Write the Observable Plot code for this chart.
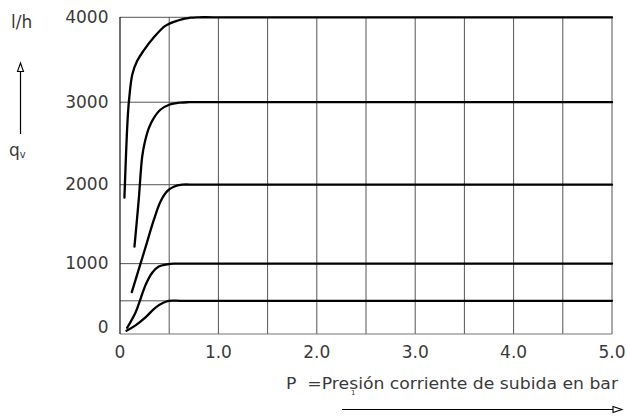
<!DOCTYPE html>
<html>
<head>
<meta charset="utf-8">
<script src="https://cdn.jsdelivr.net/npm/d3@7"></script>
<script src="https://cdn.jsdelivr.net/npm/@observablehq/plot@0.6"></script>
<style>
  html, body { margin: 0; padding: 0; background: #fff; }
</style>
</head>
<body>
<div id="chart"></div>
<script>
// Tick values / labels
const xTicks = [0, 1, 2, 3, 4, 5];
const yTicks = [1000, 2000, 3000, 4000];
const yZeroTick = [0];
const gridX = [0.5, 1, 1.5, 2, 2.5, 3, 3.5, 4, 4.5, 5];
const gridY = [500, 1000, 2000, 3000, 4000];

// Series (pressure in bar, flow in l/h)
const p4000 = [0.045, 0.075, 0.09, 0.125, 0.175, 0.24, 0.34, 0.46, 0.58, 0.72, 0.8, 0.95, 5.0];
const q4000 = [1840, 2740, 3000, 3330, 3490, 3610, 3760, 3900, 3960, 3995, 4000, 4000, 4000];
const p3000 = [0.147, 0.19, 0.225, 0.252, 0.293, 0.343, 0.41, 0.5, 0.615, 0.7, 0.85, 5.0];
const q3000 = [1220, 1810, 2340, 2520, 2690, 2810, 2910, 2970, 2995, 3000, 3000, 3000];
const p2000 = [0.12, 0.254, 0.343, 0.412, 0.48, 0.547, 0.632, 0.78, 5.0];
const q2000 = [620, 1190, 1557, 1792, 1920, 1975, 2000, 2000, 2000];
const p1000 = [0.073, 0.158, 0.208, 0.259, 0.327, 0.394, 0.48, 0.547, 0.7, 5.0];
const q1000 = [107, 335, 524, 715, 880, 961, 990, 1000, 1000, 1000];
const p500 = [0.066, 0.158, 0.259, 0.361, 0.445, 0.496, 0.65, 5.0];
const q500 = [60, 145, 264, 406, 477, 500, 500, 500];

const seriesList = [
  ["4000", p4000, q4000],
  ["3000", p3000, q3000],
  ["2000", p2000, q2000],
  ["1000", p1000, q1000],
  ["500", p500, q500]
];
const rows = seriesList.flatMap(([s, ps, qs]) => ps.map((p, i) => ({s, p, q: qs[i]})));

const W = 627, H = 420;
const font = "'DejaVu Sans', 'Liberation Sans', sans-serif";

const plot = Plot.plot({
  width: W,
  height: H,
  marginLeft: 120,
  marginRight: 15,
  marginTop: 17,
  marginBottom: 86,
  style: {fontFamily: font, fontSize: "17px", color: "#3a3a3a", background: "#fff"},
  x: {domain: [0, 5], range: [119.5, 611.5]},
  y: {type: "pow", exponent: 1.085, domain: [0, 4000], range: [333.5, 16.8]},
  marks: [
    Plot.ruleX(gridX, {stroke: "#555", strokeWidth: 1}),
    Plot.ruleY(gridY, {stroke: "#555", strokeWidth: 1}),
    Plot.ruleY([0], {stroke: "#777", strokeWidth: 1.2}),
    Plot.ruleX([0], {stroke: "#111", strokeWidth: 1.2}),
    Plot.line(rows, {x: "p", y: "q", z: "s", curve: "catmull-rom", stroke: "#000", strokeWidth: 2.3, strokeLinejoin: "round"}),
    Plot.axisX(xTicks, {tickSize: 0, tickPadding: 11, label: null, tickFormat: d => d === 0 ? "0" : d.toFixed(1), fill: "#3a3a3a"}),
    Plot.axisY(yTicks, {tickSize: 0, tickPadding: 12, label: null, tickFormat: d => String(d), fill: "#3a3a3a"}),
    Plot.axisY(yZeroTick, {tickSize: 0, tickPadding: 12, label: null, dy: -6, tickFormat: d => String(d), fill: "#3a3a3a"})
  ]
});

document.getElementById("chart").appendChild(plot);

// Annotations (axis titles and arrows)
const svg = d3.select(plot);
const g = svg.append("g").attr("font-family", font).attr("fill", "#3a3a3a").attr("text-anchor", "start");

g.append("text").attr("x", 11).attr("y", 28).attr("font-size", 17).text("l/h");

// vertical arrow
g.append("line").attr("x1", 20.5).attr("x2", 20.5).attr("y1", 134).attr("y2", 70)
  .attr("stroke", "#000").attr("stroke-width", 1.2);
g.append("path").attr("d", "M20.5,63 L17.5,71.5 L23.5,71.5 Z")
  .attr("fill", "#fff").attr("stroke", "#000").attr("stroke-width", 1.1);

const qv = g.append("text").attr("x", 9).attr("y", 156).attr("font-size", 17);
qv.append("tspan").text("q");
qv.append("tspan").attr("font-size", 10).attr("dy", 2).text("v");

// x-axis title
g.append("text").attr("x", 286).attr("y", 389).attr("font-size", 16)
  .attr("textLength", 332).attr("lengthAdjust", "spacingAndGlyphs")
  .text("P\u00a0\u00a0=Presión corriente de subida en bar");
g.append("text").attr("x", 351).attr("y", 395).attr("font-size", 7).text("1");

// horizontal arrow
g.append("line").attr("x1", 342).attr("x2", 614).attr("y1", 409.5).attr("y2", 409.5)
  .attr("stroke", "#000").attr("stroke-width", 1.2);
g.append("path").attr("d", "M622,409.5 L613,406.5 L613,412.5 Z")
  .attr("fill", "#fff").attr("stroke", "#000").attr("stroke-width", 1.1);
</script>
</body>
</html>
